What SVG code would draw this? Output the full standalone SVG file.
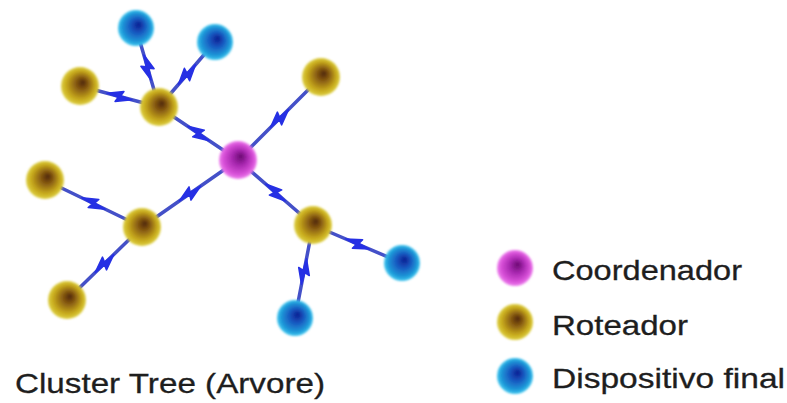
<svg xmlns="http://www.w3.org/2000/svg" xmlns:xlink="http://www.w3.org/1999/xlink" width="787" height="403" viewBox="0 0 787 403">
<style>
.link{stroke:#4450c8;stroke-width:3.5;stroke-linecap:round;fill:none}
.bolt{fill:#2630e4;stroke:#2630e4;stroke-width:1.5;stroke-linejoin:round}
.lbl{font-family:"Liberation Sans",Arial,sans-serif;fill:#1e1e1e;font-size:28px;stroke:#1e1e1e;stroke-width:0.3}
</style>
<defs>
<radialGradient id="gGold" cx="0.5" cy="0.5" r="0.5" fx="0.58" fy="0.4">
<stop offset="0" stop-color="#4e2406"/>
<stop offset="0.35" stop-color="#8a5e12"/>
<stop offset="0.75" stop-color="#c6a81c"/>
<stop offset="1" stop-color="#ded040"/>
</radialGradient>
<radialGradient id="gMag" cx="0.5" cy="0.5" r="0.5" fx="0.58" fy="0.4">
<stop offset="0" stop-color="#6a0a70"/>
<stop offset="0.4" stop-color="#a828b0"/>
<stop offset="0.8" stop-color="#d850d8"/>
<stop offset="1" stop-color="#ee80ee"/>
</radialGradient>
<radialGradient id="gBlue" cx="0.5" cy="0.5" r="0.5" fx="0.58" fy="0.4">
<stop offset="0" stop-color="#0c1c90"/>
<stop offset="0.4" stop-color="#1858c0"/>
<stop offset="0.8" stop-color="#1e98d8"/>
<stop offset="1" stop-color="#40c8f0"/>
</radialGradient>
<filter id="soft" x="-20%" y="-20%" width="140%" height="140%">
<feGaussianBlur stdDeviation="0.8"/>
</filter>
<polygon id="bolt" class="bolt" points="-13,0 3,-6 1,-1 13,0 -3,6 -1,1"/>
</defs>

<g id="connectors">
<line class="link" x1="136" y1="28" x2="159" y2="107"/>
<use xlink:href="#bolt" transform="translate(147.5,67.5) rotate(73.8)"/>
<line class="link" x1="159" y1="107" x2="215" y2="42"/>
<use xlink:href="#bolt" transform="translate(187,74.5) rotate(-49.3)"/>
<line class="link" x1="80" y1="86" x2="159" y2="107"/>
<use xlink:href="#bolt" transform="translate(119.5,96.5) rotate(14.9)"/>
<line class="link" x1="159" y1="107" x2="238" y2="160"/>
<use xlink:href="#bolt" transform="translate(198.5,133.5) rotate(33.9)"/>
<line class="link" x1="238" y1="160" x2="321" y2="77"/>
<use xlink:href="#bolt" transform="translate(279.5,118.5) rotate(-45)"/>
<line class="link" x1="142" y1="227" x2="238" y2="160"/>
<use xlink:href="#bolt" transform="translate(190,193.5) rotate(-34.9)"/>
<line class="link" x1="238" y1="160" x2="313" y2="225"/>
<use xlink:href="#bolt" transform="translate(275.5,192.5) rotate(40.9)"/>
<line class="link" x1="45" y1="180" x2="142" y2="227"/>
<use xlink:href="#bolt" transform="translate(93.5,203.5) rotate(25.9)"/>
<line class="link" x1="67" y1="300" x2="142" y2="227"/>
<use xlink:href="#bolt" transform="translate(104.5,263.5) rotate(-44.2)"/>
<line class="link" x1="313" y1="225" x2="402" y2="263"/>
<use xlink:href="#bolt" transform="translate(357.5,244) rotate(23.1)"/>
<line class="link" x1="295" y1="318" x2="313" y2="225"/>
<use xlink:href="#bolt" transform="translate(304,271.5) rotate(-79)"/>
</g>

<g id="blue-tl"><circle cx="136" cy="28" r="18" fill="url(#gBlue)" filter="url(#soft)"/></g>
<g id="blue-tr"><circle cx="215" cy="42" r="18" fill="url(#gBlue)" filter="url(#soft)"/></g>
<g id="gold-left"><circle cx="80" cy="86" r="19" fill="url(#gGold)" filter="url(#soft)"/></g>
<g id="gold-hub1"><circle cx="159" cy="107" r="19" fill="url(#gGold)" filter="url(#soft)"/></g>
<g id="gold-right"><circle cx="321" cy="77" r="19" fill="url(#gGold)" filter="url(#soft)"/></g>
<g id="coordinator"><circle cx="238" cy="160" r="19" fill="url(#gMag)" filter="url(#soft)"/></g>
<g id="gold-farleft"><circle cx="45" cy="180" r="19" fill="url(#gGold)" filter="url(#soft)"/></g>
<g id="gold-hub2"><circle cx="142" cy="227" r="19" fill="url(#gGold)" filter="url(#soft)"/></g>
<g id="gold-hub3"><circle cx="313" cy="225" r="19" fill="url(#gGold)" filter="url(#soft)"/></g>
<g id="blue-right"><circle cx="402" cy="263" r="18" fill="url(#gBlue)" filter="url(#soft)"/></g>
<g id="gold-bottomleft"><circle cx="67" cy="300" r="19" fill="url(#gGold)" filter="url(#soft)"/></g>
<g id="blue-bottom"><circle cx="295" cy="318" r="18" fill="url(#gBlue)" filter="url(#soft)"/></g>

<g id="title"><text class="lbl" x="15" y="393" textLength="310" lengthAdjust="spacingAndGlyphs">Cluster Tree (Arvore)</text></g>

<g id="legend-coordenador">
<circle cx="515" cy="268" r="18" fill="url(#gMag)" filter="url(#soft)"/>
<text class="lbl" x="552" y="280" textLength="190" lengthAdjust="spacingAndGlyphs">Coordenador</text>
</g>
<g id="legend-roteador">
<circle cx="515" cy="322" r="18" fill="url(#gGold)" filter="url(#soft)"/>
<text class="lbl" x="552" y="335" textLength="136" lengthAdjust="spacingAndGlyphs">Roteador</text>
</g>
<g id="legend-dispositivo">
<circle cx="515" cy="376" r="18" fill="url(#gBlue)" filter="url(#soft)"/>
<text class="lbl" x="552" y="388" textLength="233" lengthAdjust="spacingAndGlyphs">Dispositivo final</text>
</g>
</svg>
